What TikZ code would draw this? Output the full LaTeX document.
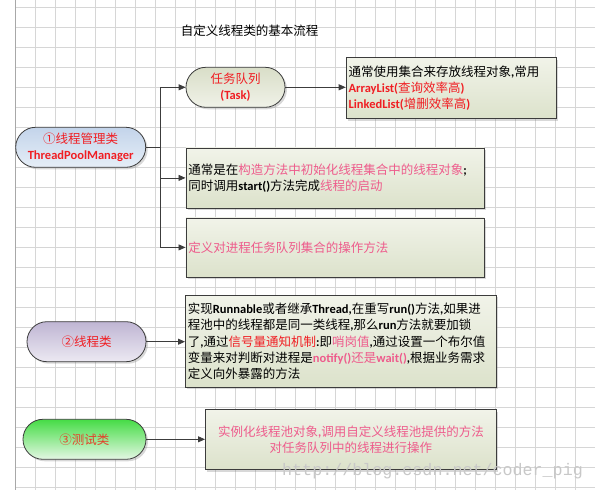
\documentclass[tikz,border=0pt]{standalone}
\usepackage{fontspec}
\setmainfont{Noto Sans CJK SC}
\newfontfamily\latf{Carlito}
\newfontfamily\wmfont{Liberation Mono}
\usetikzlibrary{arrows.meta,shadows}
\definecolor{txtred}{HTML}{F01E23}
\definecolor{txtpink}{HTML}{EE5C8C}
\definecolor{txtorange}{HTML}{E4402A}
\definecolor{linec}{HTML}{3C3C3C}
\definecolor{gridc}{HTML}{D6D6D6}
\definecolor{gridd}{HTML}{A8A8A8}
\definecolor{boxtop}{HTML}{F1F3E9}
\definecolor{boxbot}{HTML}{DCE2CB}
\definecolor{tasktop}{HTML}{D9DEC8}
\definecolor{taskbot}{HTML}{F0F2E8}
\definecolor{mgrtop}{HTML}{C3D4EA}
\definecolor{mgrbot}{HTML}{E6EEF7}
\definecolor{thrtop}{HTML}{BFB5D3}
\definecolor{thrbot}{HTML}{ECE9F2}
\definecolor{testtop}{HTML}{45DC45}
\definecolor{testbot}{HTML}{E4F7E4}
\definecolor{wmc}{HTML}{C8C8C8}
\newcommand{\latb}[1]{{\latf\bfseries #1}}
\newcommand{\pk}[1]{\textcolor{txtpink}{#1}}
\newcommand{\rd}[1]{\textcolor{txtred}{#1}}
\tikzset{
  gridline/.style={draw=gridc, line width=0.5pt},
  txtbox/.style={draw=linec, line width=0.8pt, top color=boxtop, bottom color=boxbot,
    drop shadow={opacity=0.3, shadow xshift=2pt, shadow yshift=-2pt},
    inner xsep=2.5pt, inner ysep=0pt, align=left, anchor=north west,
    font=\fontsize{12.5}{16.3}\selectfont},
  pill/.style={draw=linec, line width=0.8pt, rounded corners=19.9pt, minimum height=40pt,
    inner sep=0pt, align=center, text=txtred,
    drop shadow={opacity=0.3, shadow xshift=2pt, shadow yshift=-2pt},
    font=\fontsize{12.5}{16.3}\selectfont},
  conn/.style={draw=linec, line width=0.8pt},
  arrowc/.style={conn, -{Triangle[length=7pt,width=6pt]}},
}
\begin{document}
\begin{tikzpicture}[x=1pt,y=-1pt]
\useasboundingbox (0,0) rectangle (595,490);
\fill[white] (0,0) rectangle (595,490);
% grid
\foreach \x in {35,55,...,595} \draw[gridline] (\x,0) -- (\x,490);
\foreach \y in {7,27,...,487} \draw[gridline] (15,\y) -- (595,\y);
\draw[draw=gridd, line width=0.8pt] (15,0) -- (15,490);

% title
\node[font=\fontsize{12.5}{15}\selectfont] (title) at (249.5,31) {自定义线程类的基本流程};

% pills
\node[pill, minimum width=99pt, top color=tasktop, bottom color=taskbot] (task) at (235.5,87.3)
  {任务队列\\\latb{(Task)}};
\node[pill, minimum width=130pt, top color=mgrtop, bottom color=mgrbot] (mgr) at (80.7,147.3)
  {①线程管理类\\\latb{ThreadPoolManager}};
\node[pill, minimum width=119pt, top color=thrtop, bottom color=thrbot] (thr) at (86.5,341.7)
  {②线程类};
\node[pill, minimum width=123pt, top color=testtop, bottom color=testbot, text=txtorange] (test) at (84.5,439.3)
  {③测试类};

% boxes
\node[txtbox, text width=205pt, minimum height=61pt] (box1) at (345.7,57.3)
  {通常使用集合来存放线程对象\latb{,}常用\\
   \rd{\latb{ArrayList(}查询效率高\latb{)}}\\
   \rd{\latb{LinkedList(}增删效率高\latb{)}}};
\node[txtbox, text width=293pt, minimum height=60pt] (box2) at (185.5,147.5)
  {通常是在\pk{构造方法中初始化线程集合中的线程对象}\latb{;}\\
   同时调用\latb{start()}方法完成\pk{线程的启动}};
\node[txtbox, text width=293pt, minimum height=59pt] (box3) at (185.5,217.5)
  {\pk{定义对进程任务队列集合的操作方法}};
\node[txtbox, text width=306pt, minimum height=92pt] (box4) at (185,295)
  {实现\latb{Runnable}或者继承\latb{Thread,}在重写\latb{run()}方法\latb{,}如果进\\
   程池中的线程都是同一类线程\latb{,}那么\latb{run}方法就要加锁\\
   了\latb{,}通过\rd{信号量通知机制}\latb{:}即\pk{哨岗值}\latb{,}通过设置一个布尔值\\
   变量来对判断对进程是\pk{\latb{notify()}还是\latb{wait()}}\latb{,}根据业务需求\\
   定义向外暴露的方法};
\node[txtbox, text width=286pt, minimum height=60pt, align=center, text=txtpink] (box5) at (205,409.3)
  {实例化线程池对象\latb{,}调用自定义线程池提供的方法\\
   对任务队列中的线程进行操作};

% connectors
\coordinate (trunk) at (160.7,147.3);
\draw[conn] (mgr.east) -- (trunk);
\draw[arrowc] (trunk) |- (task.west);
\draw[arrowc] (trunk) |- (box2.west);
\draw[arrowc] (trunk) |- (box3.west);
\draw[arrowc] (task.east) -- (task.east -| box1.west);
\draw[arrowc] (thr.east) -- (thr.east -| box4.west);
\draw[arrowc] (test.east) -- (test.east -| box5.west);

% watermark
\node[anchor=west, inner sep=0pt, text=wmc, font=\wmfont\fontsize{16.7}{18}\selectfont] (wm) at (282,471)
  {http://blog.csdn.net/coder\_pig};
\end{tikzpicture}
\end{document}
